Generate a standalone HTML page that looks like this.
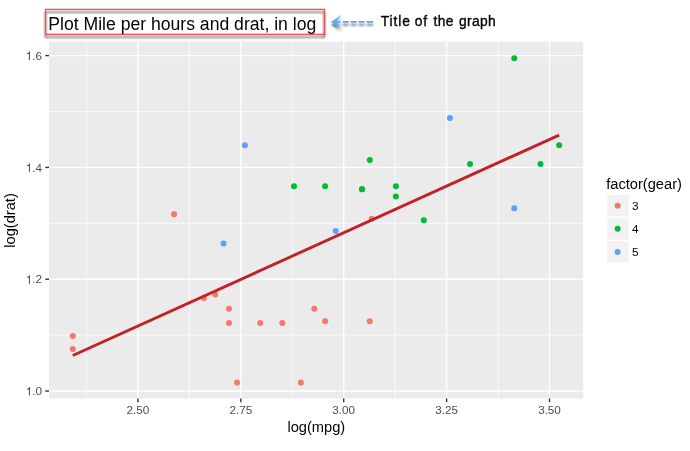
<!DOCTYPE html>
<html><head><meta charset="utf-8"><style>
html,body{margin:0;padding:0;background:#fff;}
svg{display:block;font-family:"Liberation Sans",sans-serif;}
.ax{font-size:11.7px;fill:#4D4D4D;}
.lg{font-size:11.7px;fill:#000;}
.lab{font-size:14.67px;fill:#000;}
</style></head><body>
<svg width="690" height="451" viewBox="0 0 690 451">
<defs>
<filter id="sh" x="-20%" y="-40%" width="140%" height="200%"><feDropShadow dx="0" dy="2.8" stdDeviation="1.0" flood-color="#000" flood-opacity="0.7"/></filter>
<filter id="sh2" x="-20%" y="-60%" width="140%" height="260%"><feDropShadow dx="0" dy="2.9" stdDeviation="0.9" flood-color="#000" flood-opacity="0.58"/></filter>
</defs>
<rect width="690" height="451" fill="#fff"/><g style="opacity:0.999">
<rect x="49.0" y="41.65" width="534.1" height="356.8" fill="#EBEBEB"/>
<line x1="86.45" x2="86.45" y1="41.65" y2="398.45" stroke="#fff" stroke-width="0.7"/><line x1="189.35" x2="189.35" y1="41.65" y2="398.45" stroke="#fff" stroke-width="0.7"/><line x1="292.25" x2="292.25" y1="41.65" y2="398.45" stroke="#fff" stroke-width="0.7"/><line x1="395.15" x2="395.15" y1="41.65" y2="398.45" stroke="#fff" stroke-width="0.7"/><line x1="498.05" x2="498.05" y1="41.65" y2="398.45" stroke="#fff" stroke-width="0.7"/><line y1="335.14" y2="335.14" x1="49.0" x2="583.1" stroke="#fff" stroke-width="0.7"/><line y1="223.32" y2="223.32" x1="49.0" x2="583.1" stroke="#fff" stroke-width="0.7"/><line y1="111.50" y2="111.50" x1="49.0" x2="583.1" stroke="#fff" stroke-width="0.7"/><line x1="137.90" x2="137.90" y1="41.65" y2="398.45" stroke="#fff" stroke-width="1.4"/><line x1="240.80" x2="240.80" y1="41.65" y2="398.45" stroke="#fff" stroke-width="1.4"/><line x1="343.70" x2="343.70" y1="41.65" y2="398.45" stroke="#fff" stroke-width="1.4"/><line x1="446.60" x2="446.60" y1="41.65" y2="398.45" stroke="#fff" stroke-width="1.4"/><line x1="549.50" x2="549.50" y1="41.65" y2="398.45" stroke="#fff" stroke-width="1.4"/><line y1="391.05" y2="391.05" x1="49.0" x2="583.1" stroke="#fff" stroke-width="1.4"/><line y1="279.23" y2="279.23" x1="49.0" x2="583.1" stroke="#fff" stroke-width="1.4"/><line y1="167.41" y2="167.41" x1="49.0" x2="583.1" stroke="#fff" stroke-width="1.4"/><line y1="55.59" y2="55.59" x1="49.0" x2="583.1" stroke="#fff" stroke-width="1.4"/>
<circle cx="362.03" cy="189.23" r="3.0" fill="#00BA38"/><circle cx="362.03" cy="189.23" r="3.0" fill="#00BA38"/><circle cx="395.87" cy="196.44" r="3.0" fill="#00BA38"/><circle cx="369.79" cy="321.20" r="3.0" fill="#F8766D"/><circle cx="314.28" cy="308.64" r="3.0" fill="#F8766D"/><circle cx="300.86" cy="382.53" r="3.0" fill="#F8766D"/><circle cx="203.86" cy="298.09" r="3.0" fill="#F8766D"/><circle cx="423.79" cy="220.17" r="3.0" fill="#00BA38"/><circle cx="395.87" cy="186.37" r="3.0" fill="#00BA38"/><circle cx="325.14" cy="186.37" r="3.0" fill="#00BA38"/><circle cx="293.98" cy="186.37" r="3.0" fill="#00BA38"/><circle cx="260.26" cy="323.02" r="3.0" fill="#F8766D"/><circle cx="282.25" cy="323.02" r="3.0" fill="#F8766D"/><circle cx="228.99" cy="323.02" r="3.0" fill="#F8766D"/><circle cx="72.79" cy="349.12" r="3.0" fill="#F8766D"/><circle cx="72.79" cy="335.92" r="3.0" fill="#F8766D"/><circle cx="215.22" cy="294.62" r="3.0" fill="#F8766D"/><circle cx="540.51" cy="164.00" r="3.0" fill="#00BA38"/><circle cx="514.28" cy="58.20" r="3.0" fill="#00BA38"/><circle cx="559.14" cy="145.14" r="3.0" fill="#00BA38"/><circle cx="371.71" cy="218.66" r="3.0" fill="#F8766D"/><circle cx="237.03" cy="382.53" r="3.0" fill="#F8766D"/><circle cx="228.99" cy="308.64" r="3.0" fill="#F8766D"/><circle cx="174.02" cy="214.15" r="3.0" fill="#F8766D"/><circle cx="325.14" cy="321.20" r="3.0" fill="#F8766D"/><circle cx="470.01" cy="164.00" r="3.0" fill="#00BA38"/><circle cx="449.93" cy="117.99" r="3.0" fill="#619CFF"/><circle cx="514.28" cy="208.18" r="3.0" fill="#619CFF"/><circle cx="244.92" cy="145.14" r="3.0" fill="#619CFF"/><circle cx="335.72" cy="230.88" r="3.0" fill="#619CFF"/><circle cx="223.53" cy="243.38" r="3.0" fill="#619CFF"/><circle cx="369.79" cy="159.91" r="3.0" fill="#00BA38"/>
<line x1="72.79" y1="355.35" x2="559.14" y2="134.90" transform="translate(0,0.2)" stroke="#C42126" stroke-width="2.9"/>
<line x1="137.90" x2="137.90" y1="398.45" y2="402.15" stroke="#333" stroke-width="1.4"/><text x="137.90" y="414.4" text-anchor="middle" class="ax">2.50</text><line x1="240.80" x2="240.80" y1="398.45" y2="402.15" stroke="#333" stroke-width="1.4"/><text x="240.80" y="414.4" text-anchor="middle" class="ax">2.75</text><line x1="343.70" x2="343.70" y1="398.45" y2="402.15" stroke="#333" stroke-width="1.4"/><text x="343.70" y="414.4" text-anchor="middle" class="ax">3.00</text><line x1="446.60" x2="446.60" y1="398.45" y2="402.15" stroke="#333" stroke-width="1.4"/><text x="446.60" y="414.4" text-anchor="middle" class="ax">3.25</text><line x1="549.50" x2="549.50" y1="398.45" y2="402.15" stroke="#333" stroke-width="1.4"/><text x="549.50" y="414.4" text-anchor="middle" class="ax">3.50</text><line y1="391.05" y2="391.05" x1="45.3" x2="49.0" stroke="#333" stroke-width="1.4"/><text x="42.1" y="395.25" text-anchor="end" class="ax">.0</text><path transform="translate(25.84,395.45) scale(0.0117,-0.0117)" fill="#4D4D4D" d="M350 0 L262 0 L262 506 L104 506 L104 568 Q252 574 290 716 L350 716 Z"/><line y1="279.23" y2="279.23" x1="45.3" x2="49.0" stroke="#333" stroke-width="1.4"/><text x="42.1" y="283.43" text-anchor="end" class="ax">.2</text><path transform="translate(25.84,283.63) scale(0.0117,-0.0117)" fill="#4D4D4D" d="M350 0 L262 0 L262 506 L104 506 L104 568 Q252 574 290 716 L350 716 Z"/><line y1="167.41" y2="167.41" x1="45.3" x2="49.0" stroke="#333" stroke-width="1.4"/><text x="42.1" y="171.61" text-anchor="end" class="ax">.4</text><path transform="translate(25.84,171.81) scale(0.0117,-0.0117)" fill="#4D4D4D" d="M350 0 L262 0 L262 506 L104 506 L104 568 Q252 574 290 716 L350 716 Z"/><line y1="55.59" y2="55.59" x1="45.3" x2="49.0" stroke="#333" stroke-width="1.4"/><text x="42.1" y="59.79" text-anchor="end" class="ax">.6</text><path transform="translate(25.84,59.99) scale(0.0117,-0.0117)" fill="#4D4D4D" d="M350 0 L262 0 L262 506 L104 506 L104 568 Q252 574 290 716 L350 716 Z"/>
<text x="316.3" y="432" text-anchor="middle" class="lab">log(mpg)</text>
<text transform="translate(14.9,220.5) rotate(-90)" text-anchor="middle" class="lab">log(drat)</text>
<text x="606.2" y="188.9" class="lab">factor(gear)</text>
<rect x="607.1" y="195.0" width="21.5" height="21.5" fill="#F2F2F2"/><circle cx="617.6" cy="205.8" r="3.0" fill="#F8766D"/><text x="632" y="210.0" class="lg">3</text><rect x="607.1" y="218.04999999999998" width="21.5" height="21.5" fill="#F2F2F2"/><circle cx="617.6" cy="228.85" r="3.0" fill="#00BA38"/><text x="632" y="233.04999999999998" class="lg">4</text><rect x="607.1" y="241.1" width="21.5" height="21.5" fill="#F2F2F2"/><circle cx="617.6" cy="251.9" r="3.0" fill="#619CFF"/><text x="632" y="256.1" class="lg">5</text>
<rect x="45.5" y="9.4" width="278.85" height="24.9" fill="none" stroke="#FC4846" stroke-width="1.3" filter="url(#sh)"/>
<text x="48.3" y="29.7" style="font-size:17.6px;fill:#000;">Plot Mile per hours and drat, in log</text>
<g filter="url(#sh2)" fill="#5CA6FB">
<path d="M330.9 21.9 L342 14.6 L336.4 21 L340.7 21 L340.7 22.8 L336.4 22.8 L342 28.7 Z"/>
<rect x="342.7" y="21" width="6" height="1.8"/>
<rect x="350.7" y="21" width="5.9" height="1.8"/>
<rect x="358.5" y="21" width="6" height="1.8"/>
<rect x="366.5" y="21" width="6.7" height="1.8"/>
</g>
<text y="25.8" style="font-size:13.8px;fill:#000;stroke:#000;stroke-width:0.35px;"><tspan x="380.8" style="letter-spacing:0.9px">Title</tspan><tspan x="414.7" style="letter-spacing:0.9px">of</tspan><tspan x="433.5" style="letter-spacing:0.4px">the</tspan><tspan x="459.0" style="letter-spacing:0.35px">graph</tspan></text>
</g></svg>
</body></html>
